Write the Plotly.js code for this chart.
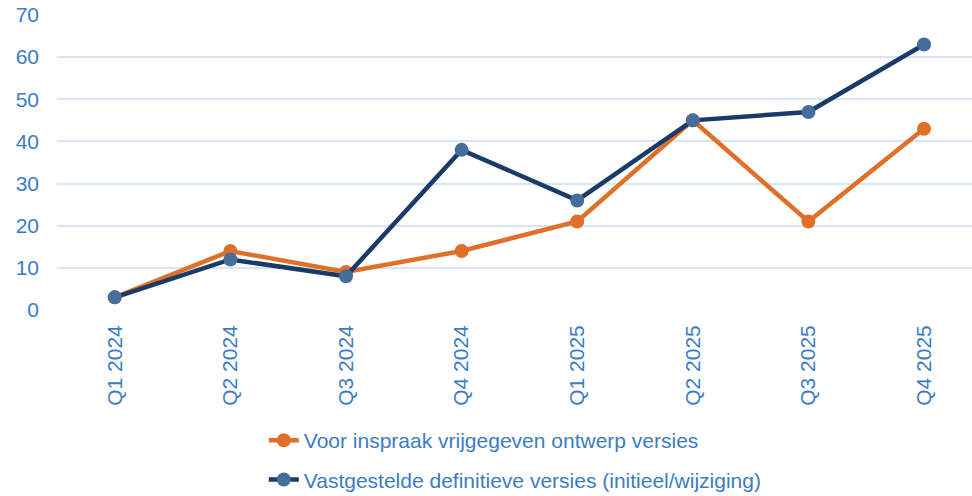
<!DOCTYPE html>
<html>
<head>
<meta charset="utf-8">
<script src="https://cdn.plot.ly/plotly-3.0.1.min.js"></script>
<style>html,body{margin:0;padding:0;background:#fff;}#chart{width:972px;height:496px;}</style>
</head>
<body>
<div id="chart"></div>
<script>
const categories = ["Q1 2024","Q2 2024","Q3 2024","Q4 2024","Q1 2025","Q2 2025","Q3 2025","Q4 2025"];
const seriesNames = ["Voor inspraak vrijgegeven ontwerp versies","Vastgestelde definitieve versies (initieel/wijziging)"];
const ontwerp = [3, 14, 9, 14, 21, 45, 21, 43];
const vastgesteld = [3, 12, 8, 38, 26, 45, 47, 63];
const yTicks = [0,10,20,30,40,50,60,70];

const textColor = "#3d7cc3";
const font = {family: "Liberation Sans, Arial, sans-serif", size: 21, color: textColor};

const traces = [
  {x: categories, y: ontwerp, name: seriesNames[0], type: "scatter", mode: "lines+markers",
   line: {color: "#e07028", width: 4.5}, marker: {color: "#e07028", size: 14},
   cliponaxis: false, legendgroup: "a"},
  {x: categories, y: vastgesteld, name: seriesNames[1], type: "scatter", mode: "lines+markers",
   line: {color: "#1a3a6a", width: 4.5}, marker: {color: "#476e9b", size: 14},
   cliponaxis: false, legendgroup: "b"}
];

const layout = {
  width: 972, height: 496,
  margin: {l: 57, r: 0, t: 15, b: 186, autoexpand: false},
  paper_bgcolor: "#fff", plot_bgcolor: "#fff",
  font: font,
  showlegend: true,
  legend: {x: 0.226, y: -0.373, xanchor: "left", yanchor: "top", orientation: "v",
           traceorder: "grouped", tracegroupgap: 9, font: font},
  xaxis: {type: "category", range: [-0.5, 7.415], tickangle: -90, showgrid: false,
          zeroline: false, showline: false, ticks: "", tickfont: font, automargin: false,
          ticklabelstandoff: 10},
  yaxis: {range: [0, 70], tickvals: yTicks, showgrid: true, gridcolor: "#d8e5f5", gridwidth: 2,
          zeroline: false, showline: false, ticks: "", tickfont: font, automargin: false,
          ticklabelstandoff: 17}
};

Plotly.newPlot("chart", traces, layout, {displayModeBar: false, staticPlot: true});
</script>
</body>
</html>
